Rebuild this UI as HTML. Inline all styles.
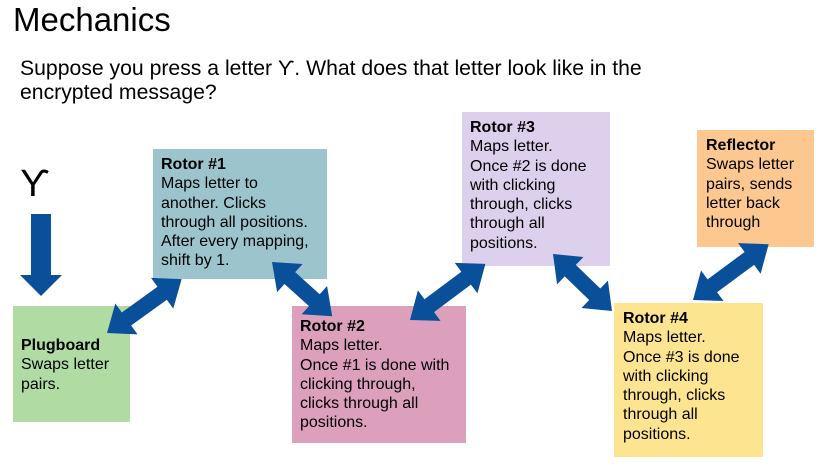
<!DOCTYPE html>
<html><head><meta charset="utf-8"><style>
body{margin:0;width:826px;height:466px;background:#fff;position:relative;overflow:hidden;font-family:"Liberation Sans",Arial,sans-serif;color:#000}
.t{position:absolute;white-space:nowrap}
.b{position:absolute;box-sizing:border-box;font-size:16px;line-height:19.3px;padding:6px 0 0 8px;white-space:nowrap}
.b b{font-weight:bold}
</style></head><body>
<div class="t" style="left:13px;top:1px;font-size:33px">Mechanics</div>
<div class="t" style="left:20px;top:57px;font-size:21.2px;line-height:24px">Suppose you press a letter ϒ. What does that letter look like in the<br>encrypted message?</div>
<div class="t" style="left:20px;top:164px;font-size:38px;line-height:40px">ϒ</div>

<div class="b" style="left:13px;top:306px;width:117px;height:116px;background:#b0dca4;padding-top:30px"><b>Plugboard</b><br>Swaps letter<br>pairs.</div>
<div class="b" style="left:153px;top:149px;width:174px;height:130px;background:#9cc4cc"><b>Rotor #1</b><br>Maps letter to<br>another. Clicks<br>through all positions.<br>After every mapping,<br>shift by 1.</div>
<div class="b" style="left:292px;top:306px;width:174px;height:137px;background:#dca0bc;padding-top:11px"><b>Rotor #2</b><br>Maps letter.<br>Once #1 is done with<br>clicking through,<br>clicks through all<br>positions.</div>
<div class="b" style="left:462px;top:112px;width:148px;height:154px;background:#dcd0ec"><b>Rotor #3</b><br>Maps letter.<br>Once #2 is done<br>with clicking<br>through, clicks<br>through all<br>positions.</div>
<div class="b" style="left:697px;top:130px;width:117px;height:117px;background:#fcc890;padding-left:9px"><b>Reflector</b><br>Swaps letter<br>pairs, sends<br>letter back<br>through</div>
<div class="b" style="left:614px;top:303px;width:149px;height:154px;background:#fce490;padding-left:9px"><b>Rotor #4</b><br>Maps letter.<br>Once #3 is done<br>with clicking<br>through, clicks<br>through all<br>positions.</div>

<svg width="826" height="466" style="position:absolute;left:0;top:0">
<g fill="#0a4f9a">
<polygon points="31,214 51,214 51,275 62,275 41,296 20,275 31,275"/>
<polygon transform="translate(107,333) rotate(-35.8)" points="0,0 24,-19 24,-8 68,-8 68,-19 92,0 68,19 68,8 24,8 24,19"/>
<polygon transform="translate(272,262) rotate(42)" points="0,0 24,-19 24,-8 57,-8 57,-19 81,0 57,19 57,8 24,8 24,19"/>
<polygon transform="translate(410,320) rotate(-36.7)" points="0,0 24,-19 24,-8 70,-8 70,-19 94,0 70,19 70,8 24,8 24,19"/>
<polygon transform="translate(553,254) rotate(44)" points="0,0 24,-19 24,-8 58,-8 58,-19 82,0 58,19 58,8 24,8 24,19"/>
<polygon transform="translate(693,300) rotate(-36.4)" points="0,0 24,-19 24,-8 70,-8 70,-19 94,0 70,19 70,8 24,8 24,19"/>
</g>
</svg>
</body></html>
